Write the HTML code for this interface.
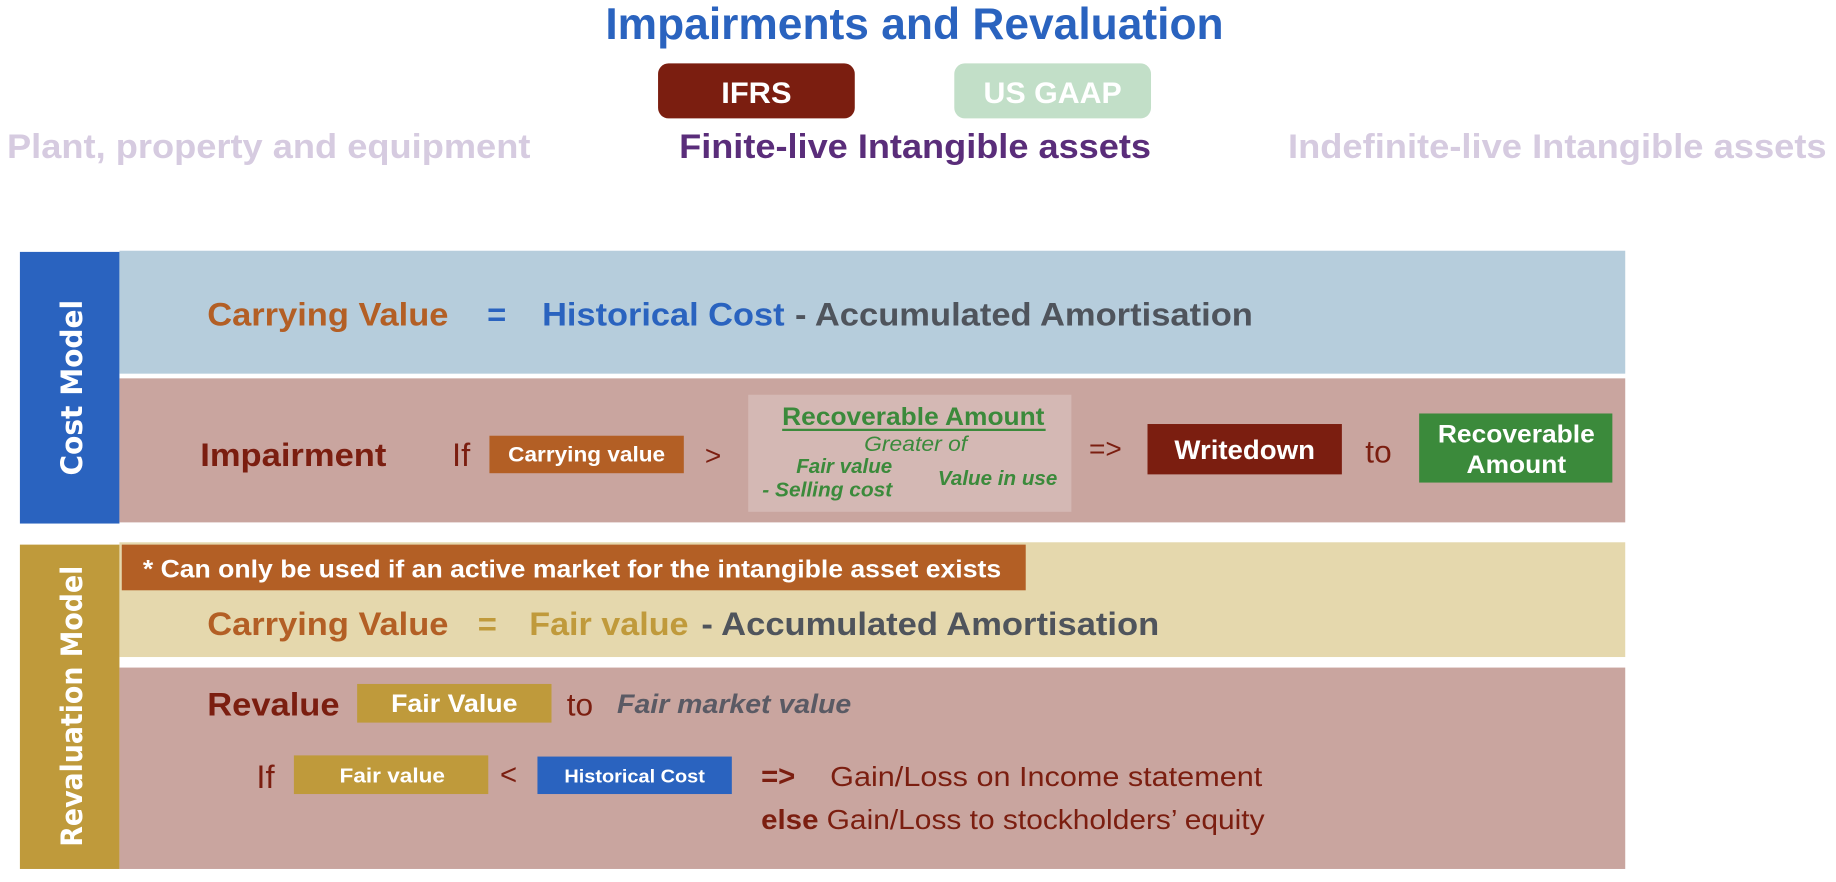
<!DOCTYPE html>
<html><head><meta charset="utf-8"><style>
html,body{margin:0;padding:0;background:#fff;}
svg{display:block;font-family:"Liberation Sans",sans-serif;}
.b{font-weight:bold;}
</style></head><body>
<svg width="1836" height="882" viewBox="0 0 1568 753" xmlns="http://www.w3.org/2000/svg">
<text x="517" y="33" font-size="38" class="b" fill="#2a63bf" textLength="528" lengthAdjust="spacingAndGlyphs">Impairments and Revaluation</text>
<g>
<rect x="562" y="54" width="168" height="47" rx="9" fill="#7b1e10"/>
<text x="646" y="88" font-size="25" class="b" fill="#fff" text-anchor="middle" textLength="60" lengthAdjust="spacingAndGlyphs">IFRS</text></g>
<g>
<rect x="815" y="54" width="168" height="47" rx="9" fill="#c2dfc8"/>
<text x="899" y="88" font-size="25" class="b" fill="#fff" text-anchor="middle" textLength="118" lengthAdjust="spacingAndGlyphs">US GAAP</text></g>
<text x="6" y="135" font-size="29" class="b" fill="#d6cbe0" textLength="447" lengthAdjust="spacingAndGlyphs">Plant, property and equipment</text>
<text x="580" y="135" font-size="29" class="b" fill="#5a2d7a" textLength="403" lengthAdjust="spacingAndGlyphs">Finite-live Intangible assets</text>
<text x="1100" y="135" font-size="29" class="b" fill="#d6cbe0" textLength="460" lengthAdjust="spacingAndGlyphs">Indefinite-live Intangible assets</text>

<g>
<rect x="17" y="215" width="85" height="232" fill="#2a63bf"/>
<text transform="translate(70,331) rotate(-90)" font-family="DejaVu Sans" font-size="25" class="b" fill="#fff" text-anchor="middle" textLength="150" lengthAdjust="spacingAndGlyphs">Cost Model</text>
<rect x="102" y="214" width="1286" height="105" fill="#b6cddc"/>
<rect x="102" y="323" width="1286" height="123" fill="#c9a59f"/>
<text x="177" y="278" font-size="28" class="b" fill="#b35f25" textLength="206" lengthAdjust="spacingAndGlyphs">Carrying Value</text>
<text x="416" y="278" font-size="28" class="b" fill="#2a63bf">=</text>
<text x="463" y="278" font-size="28" class="b" fill="#2a63bf" textLength="207" lengthAdjust="spacingAndGlyphs">Historical Cost</text>
<text x="679" y="278" font-size="28" class="b" fill="#4f545c" textLength="391" lengthAdjust="spacingAndGlyphs">- Accumulated Amortisation</text>
<text x="171" y="398" font-size="28" class="b" fill="#7b1e10" textLength="159" lengthAdjust="spacingAndGlyphs">Impairment</text>
<text x="386" y="398" font-size="28" fill="#7b1e10">If</text>
<rect x="418" y="372" width="166" height="32" fill="#b35f25"/>
<text x="501" y="394" font-size="18" class="b" fill="#fff" text-anchor="middle" textLength="134" lengthAdjust="spacingAndGlyphs">Carrying value</text>
<text x="602" y="397" font-size="24" fill="#7b1e10">&gt;</text>
<g>
<rect x="639" y="337" width="276" height="100" fill="#d4b8b4"/>
<text x="780" y="363" font-size="21" class="b" fill="#3b8a3b" text-anchor="middle" textLength="224" lengthAdjust="spacingAndGlyphs">Recoverable Amount</text>
<line x1="668" y1="367" x2="893" y2="367" stroke="#3b8a3b" stroke-width="2"/>
<text x="782" y="385" font-size="18" font-style="italic" fill="#3b8a3b" text-anchor="middle" textLength="88" lengthAdjust="spacingAndGlyphs">Greater of</text>
<text x="680" y="404" font-size="17" class="b" font-style="italic" fill="#3b8a3b" textLength="82" lengthAdjust="spacingAndGlyphs">Fair value</text>
<text x="651" y="424" font-size="17" class="b" font-style="italic" fill="#3b8a3b" textLength="111" lengthAdjust="spacingAndGlyphs">- Selling cost</text>
<text x="801" y="414" font-size="17" class="b" font-style="italic" fill="#3b8a3b" textLength="102" lengthAdjust="spacingAndGlyphs">Value in use</text>
</g>
<text x="930" y="391" font-size="24" fill="#7b1e10">=&gt;</text>
<rect x="980" y="362" width="166" height="43" fill="#7b1e10"/>
<text x="1063" y="392" font-size="23" class="b" fill="#fff" text-anchor="middle" textLength="120" lengthAdjust="spacingAndGlyphs">Writedown</text>
<text x="1166" y="395" font-size="27" fill="#7b1e10">to</text>
<rect x="1212" y="353" width="165" height="59" fill="#3b8a3b"/>
<text x="1295" y="378" font-size="21" class="b" fill="#fff" text-anchor="middle" textLength="134" lengthAdjust="spacingAndGlyphs">Recoverable</text>
<text x="1295" y="404" font-size="21" class="b" fill="#fff" text-anchor="middle" textLength="85" lengthAdjust="spacingAndGlyphs">Amount</text>
</g>

<g>
<rect x="17" y="465" width="85" height="277" fill="#bf9a3b"/>
<text transform="translate(70,603) rotate(-90)" font-family="DejaVu Sans" font-size="25" class="b" fill="#fff" text-anchor="middle" textLength="240" lengthAdjust="spacingAndGlyphs">Revaluation Model</text>
<rect x="102" y="463" width="1286" height="98" fill="#e5d8ad"/>
<rect x="104" y="465" width="772" height="39" fill="#b35f25"/>
<text x="122" y="493" font-size="21" class="b" fill="#fff" textLength="733" lengthAdjust="spacingAndGlyphs">* Can only be used if an active market for the intangible asset exists</text>
<text x="177" y="542" font-size="28" class="b" fill="#b35f25" textLength="206" lengthAdjust="spacingAndGlyphs">Carrying Value</text>
<text x="408" y="542" font-size="28" class="b" fill="#c09a3b">=</text>
<text x="452" y="542" font-size="28" class="b" fill="#c09a3b" textLength="136" lengthAdjust="spacingAndGlyphs">Fair value</text>
<text x="599" y="542" font-size="28" class="b" fill="#4f545c" textLength="391" lengthAdjust="spacingAndGlyphs">- Accumulated Amortisation</text>
<rect x="102" y="570" width="1286" height="172" fill="#c9a59f"/>
<text x="177" y="611" font-size="28" class="b" fill="#7b1e10" textLength="113" lengthAdjust="spacingAndGlyphs">Revalue</text>
<rect x="305" y="584" width="166" height="33" fill="#bf9a3b"/>
<text x="388" y="608" font-size="21" class="b" fill="#fff" text-anchor="middle" textLength="108" lengthAdjust="spacingAndGlyphs">Fair Value</text>
<text x="484" y="611" font-size="27" fill="#7b1e10">to</text>
<text x="527" y="609" font-size="23" class="b" font-style="italic" fill="#5a5a64" textLength="200" lengthAdjust="spacingAndGlyphs">Fair market value</text>
<text x="219" y="673" font-size="28" fill="#7b1e10">If</text>
<rect x="251" y="645" width="166" height="33" fill="#bf9a3b"/>
<text x="335" y="668" font-size="17" class="b" fill="#fff" text-anchor="middle" textLength="90" lengthAdjust="spacingAndGlyphs">Fair value</text>
<text x="427" y="670" font-size="25" fill="#7b1e10">&lt;</text>
<rect x="459" y="646" width="166" height="32" fill="#2a63bf"/>
<text x="542" y="668" font-size="16" class="b" fill="#fff" text-anchor="middle" textLength="120" lengthAdjust="spacingAndGlyphs">Historical Cost</text>
<text x="650" y="671" font-size="25" class="b" fill="#7b1e10">=&gt;</text>
<text x="709" y="671" font-size="24" fill="#7b1e10" textLength="369" lengthAdjust="spacingAndGlyphs">Gain/Loss on Income statement</text>
<text x="650" y="708" font-size="24" class="b" fill="#7b1e10" textLength="49" lengthAdjust="spacingAndGlyphs">else</text>
<text x="706" y="708" font-size="24" fill="#7b1e10" textLength="374" lengthAdjust="spacingAndGlyphs">Gain/Loss to stockholders’ equity</text>
</g>
</svg>
</body></html>
